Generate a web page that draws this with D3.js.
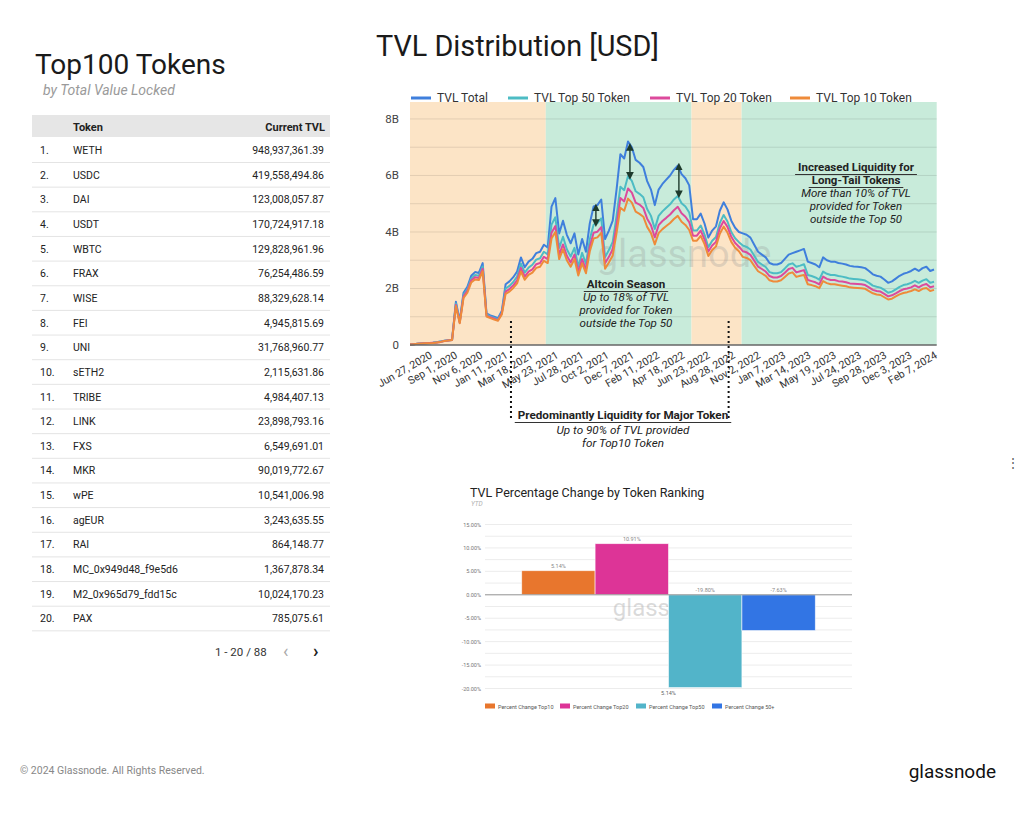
<!DOCTYPE html>
<html><head><meta charset="utf-8">
<script src="https://cdn.jsdelivr.net/npm/d3@7"></script>
<style>
body{margin:0;background:#fff;}
svg text{font-family:Roboto,'Noto Sans',sans-serif;}
</style></head><body>
<svg id="c" width="1034" height="823"></svg>
<script>
// ---------------- DATA ----------------
const tokens = ["WETH","USDC","DAI","USDT","WBTC","FRAX","WISE","FEI","UNI","sETH2","TRIBE","LINK","FXS","MKR","wPE","agEUR","RAI","MC_0x949d48_f9e5d6","M2_0x965d79_fdd15c","PAX"];
const currentTVL = [948937361.39,419558494.86,123008057.87,170724917.18,129828961.96,76254486.59,88329628.14,4945815.69,31768960.77,2115631.86,4984407.13,23898793.16,6549691.01,90019772.67,10541006.98,3243635.55,864148.77,1367878.34,10024170.23,785075.61];

// TVL series in billions USD, one value every 10 days starting 2020-05-08
const seriesStart = "2020-05-08";
const seriesStepDays = 10;
const tvlTotal = [
0.02,0.03,0.04,0.05,0.06,0.07,0.08,0.10,0.12,0.15,0.17,0.19,
1.53,0.85,1.85,2.06,2.45,2.58,2.55,2.90,1.12,1.05,1.00,0.95,1.20,
2.15,2.25,2.40,2.60,3.10,2.75,2.95,3.05,3.25,3.30,3.55,3.45,
4.90,5.20,3.95,4.40,3.90,3.60,3.95,3.20,3.75,3.30,4.30,4.90,4.95,5.15,
3.75,4.05,4.40,5.50,6.75,6.60,7.20,7.00,6.55,6.45,6.30,5.80,5.50,4.95,5.50,5.70,5.85,6.00,6.20,6.35,6.05,5.90,5.65,
4.45,4.45,4.65,4.30,3.80,4.05,4.20,4.75,5.05,4.80,4.40,4.15,4.00,
3.95,3.90,3.80,3.55,3.30,3.20,3.10,2.90,2.85,2.85,2.90,3.05,3.20,3.25,
3.30,3.35,3.40,2.95,2.90,2.85,2.75,3.10,3.00,2.95,2.95,2.90,2.88,2.85,2.80,2.78,2.77,2.75,2.72,2.62,2.50,2.45,2.42,2.32,2.20,2.25,2.35,2.45,2.52,2.56,2.62,2.70,2.62,2.72,2.77,2.62,2.67];
const tvlTop50 = [
0.02,0.03,0.04,0.05,0.06,0.07,0.08,0.10,0.12,0.15,0.16,0.18,
1.47,0.82,1.78,1.98,2.35,2.48,2.45,2.78,1.08,1.01,0.96,0.91,1.15,
2.00,2.09,2.23,2.42,2.88,2.56,2.74,2.84,3.02,3.07,3.30,3.21,
4.26,4.52,3.44,3.83,3.39,3.13,3.44,2.78,3.26,2.87,3.74,4.26,4.31,4.48,
3.11,3.36,3.65,4.57,5.60,5.48,5.98,5.81,5.44,5.35,5.23,4.81,4.57,4.11,4.57,4.73,4.86,4.98,5.15,5.27,5.02,4.90,4.69,
4.05,4.05,4.23,3.91,3.46,3.69,3.82,4.32,4.60,4.37,4.00,3.78,3.64,
3.52,3.47,3.38,3.16,2.94,2.85,2.76,2.58,2.54,2.54,2.58,2.71,2.85,2.89,
2.77,2.81,2.86,2.48,2.44,2.39,2.31,2.60,2.52,2.48,2.48,2.44,2.42,2.39,2.35,2.34,2.33,2.31,2.28,2.20,2.10,2.06,2.03,1.95,1.85,1.89,1.97,2.06,2.12,2.15,2.20,2.27,2.20,2.28,2.33,2.20,2.24];
const tvlTop20 = [
0.02,0.03,0.04,0.05,0.06,0.07,0.08,0.09,0.11,0.14,0.16,0.18,
1.42,0.79,1.72,1.92,2.28,2.40,2.37,2.70,1.04,0.98,0.93,0.88,1.12,
1.89,1.98,2.11,2.29,2.73,2.42,2.60,2.68,2.86,2.90,3.12,3.04,
3.97,4.21,3.20,3.56,3.16,2.92,3.20,2.59,3.04,2.67,3.48,3.97,4.01,4.17,
2.89,3.12,3.39,4.24,5.20,5.08,5.54,5.39,5.04,4.97,4.85,4.47,4.24,3.81,4.24,4.39,4.50,4.62,4.77,4.89,4.66,4.54,4.35,
3.87,3.87,4.05,3.74,3.31,3.52,3.65,4.13,4.39,4.18,3.83,3.61,3.48,
3.32,3.28,3.19,2.98,2.77,2.69,2.60,2.44,2.39,2.39,2.44,2.56,2.69,2.73,
2.57,2.61,2.65,2.30,2.26,2.22,2.15,2.42,2.34,2.30,2.30,2.26,2.25,2.22,2.18,2.17,2.16,2.15,2.12,2.04,1.95,1.91,1.89,1.81,1.72,1.76,1.83,1.91,1.97,2.00,2.04,2.11,2.04,2.12,2.16,2.04,2.08];
const tvlTop10 = [
0.02,0.03,0.04,0.05,0.06,0.06,0.07,0.09,0.11,0.14,0.16,0.18,
1.38,0.77,1.67,1.85,2.21,2.32,2.30,2.61,1.01,0.95,0.90,0.86,1.08,
1.81,1.89,2.02,2.18,2.60,2.31,2.48,2.56,2.73,2.77,2.98,2.90,
3.77,4.00,3.04,3.39,3.00,2.77,3.04,2.46,2.89,2.54,3.31,3.77,3.81,3.97,
2.70,2.92,3.17,3.96,4.86,4.75,5.18,5.04,4.72,4.64,4.54,4.18,3.96,3.56,3.96,4.10,4.21,4.32,4.46,4.57,4.36,4.25,4.07,
3.69,3.69,3.86,3.57,3.15,3.36,3.49,3.94,4.19,3.98,3.65,3.44,3.32,
3.12,3.08,3.00,2.80,2.61,2.53,2.45,2.29,2.25,2.25,2.29,2.41,2.53,2.57,
2.41,2.45,2.48,2.15,2.12,2.08,2.01,2.26,2.19,2.15,2.15,2.12,2.10,2.08,2.04,2.03,2.02,2.01,1.99,1.91,1.83,1.79,1.77,1.69,1.61,1.64,1.72,1.79,1.84,1.87,1.91,1.97,1.91,1.99,2.02,1.91,1.95];

const seriesNames = ["TVL Total","TVL Top 50 Token","TVL Top 20 Token","TVL Top 10 Token"];
const seriesColors = ["#3f7fdc","#4dbcc4","#dc4a9c","#ee8b3a"];
const xTickDates = ["2020-06-27","2020-09-01","2020-11-06","2021-01-11","2021-03-18","2021-05-23","2021-07-28","2021-10-02","2021-12-07","2022-02-11","2022-04-18","2022-06-23","2022-08-28","2022-11-02","2023-01-07","2023-03-14","2023-05-19","2023-07-24","2023-09-28","2023-12-03","2024-02-07"];
const yTicks = [0,2,4,6,8];
const periods = [
  {from:"2020-05-08", to:"2021-04-28", kind:"major"},
  {from:"2021-04-28", to:"2022-05-14", kind:"alt"},
  {from:"2022-05-14", to:"2022-09-22", kind:"major"},
  {from:"2022-09-22", to:"2024-02-14", kind:"alt"}];
const arrowMarks = [
  {date:"2021-09-06", hi:4.90, lo:4.28},
  {date:"2021-12-04", hi:7.05, lo:5.95},
  {date:"2022-04-11", hi:6.35, lo:5.30}];
const bracketDates = ["2021-01-27","2022-08-19"];

const barCategory = "5.14%";
const barSeries = ["Percent Change Top10","Percent Change Top20","Percent Change Top50","Percent Change 50+"];
const barValues = [5.14, 10.91, -19.80, -7.63];
const barColors = ["#e8762d","#dd3497","#52b4c9","#3275e4"];

// ---------------- DRAW ----------------
(function(){
const svg = d3.select("#c");
const parse = d3.timeParse("%Y-%m-%d");
const fmtNum = d3.format(",.2f");

// Left panel
svg.append("text").attr("x",35).attr("y",74).attr("font-size",28).attr("fill","#1a1a1a").text("Top100 Tokens");
svg.append("text").attr("x",43).attr("y",95).attr("font-size",14).attr("font-style","italic").attr("fill","#9a9a9a").text("by Total Value Locked");
svg.append("rect").attr("x",32).attr("y",115).attr("width",298).attr("height",22).attr("fill","#e6e6e6");
svg.append("text").attr("x",73).attr("y",130.5).attr("font-size",11).attr("font-weight",700).attr("fill","#222").text("Token");
svg.append("text").attr("x",325).attr("y",130.5).attr("font-size",11).attr("font-weight",700).attr("fill","#222").attr("text-anchor","end").text("Current TVL");
const rowH = 24.65;
const rows = svg.append("g");
tokens.forEach((t,i)=>{
  const by = 154 + i*rowH;
  rows.append("text").attr("x",40).attr("y",by).attr("font-size",10.5).attr("fill","#222").text((i+1)+".");
  rows.append("text").attr("x",73).attr("y",by).attr("font-size",10.5).attr("fill","#222").text(t);
  rows.append("text").attr("x",324).attr("y",by).attr("font-size",10.5).attr("fill","#222").attr("text-anchor","end").text(fmtNum(currentTVL[i]));
  rows.append("line").attr("x1",32).attr("x2",330).attr("y1",by+8.5).attr("y2",by+8.5).attr("stroke","#e4e4e4");
});
svg.append("text").attr("x",215).attr("y",656).attr("font-size",11.5).attr("fill","#333").text("1 - 20 / 88");
svg.append("text").attr("x",283).attr("y",657).attr("font-size",18).attr("fill","#aaa").text("‹");
svg.append("text").attr("x",313).attr("y",657).attr("font-size",18).attr("font-weight",700).attr("fill","#222").text("›");

// Top chart
svg.append("text").attr("x",376).attr("y",56).attr("font-size",28.8).attr("fill","#1a1a1a").text("TVL Distribution [USD]");
const x = d3.scaleTime().domain([parse("2020-05-08"), parse("2024-02-14")]).range([410, 936.7]);
const y = d3.scaleLinear().domain([0, 8.6]).range([345, 102]);
const tc = svg.append("g");
periods.forEach(p=>{
  tc.append("rect").attr("x",x(parse(p.from))).attr("y",y(8.6)).attr("width",x(parse(p.to))-x(parse(p.from))).attr("height",y(0)-y(8.6))
    .attr("fill", p.kind==="major" ? "#fce4c6" : "#c8ebda");
});
d3.range(1,9).forEach(v=>{
  tc.append("line").attr("x1",410).attr("x2",936.7).attr("y1",y(v)).attr("y2",y(v)).attr("stroke","rgba(0,0,0,0.10)");
});
yTicks.forEach(v=>{
  tc.append("text").attr("x",399).attr("y",y(v)+4).attr("text-anchor","end").attr("font-size",11.5).attr("fill","#444").text(v===0?"0":v+"B");
});
tc.append("text").attr("x",684).attr("y",267).attr("text-anchor","middle").attr("font-family","Inter, sans-serif").attr("font-size",38).attr("fill","rgba(150,150,150,0.28)").text("glassnode");

const seriesData = [tvlTotal,tvlTop50,tvlTop20,tvlTop10];
const start = parse(seriesStart);
const line = d3.line().x((d,i)=>x(d3.timeDay.offset(start, i*seriesStepDays))).y(d=>y(d));
seriesData.forEach((arr,k)=>{
  tc.append("path").attr("d", line(arr)).attr("fill","none").attr("stroke",seriesColors[k]).attr("stroke-width",2).attr("stroke-linejoin","round");
});
tc.append("line").attr("x1",410).attr("x2",936.7).attr("y1",y(0)).attr("y2",y(0)).attr("stroke","#666").attr("stroke-width",1.3);

// x labels
xTickDates.forEach(ds=>{
  const d = parse(ds);
  tc.append("text").attr("transform",`translate(${x(d)+2},${354}) rotate(-30)`).attr("text-anchor","end").attr("dy","0.35em")
    .attr("font-size",10.6).attr("fill","#333").text(d3.timeFormat("%b %-d, %Y")(d));
});

// legend
const legX = [411,508,650,790];
seriesNames.forEach((n,k)=>{
  tc.append("line").attr("x1",legX[k]).attr("x2",legX[k]+20).attr("y1",98).attr("y2",98).attr("stroke",seriesColors[k]).attr("stroke-width",3);
  tc.append("text").attr("x",legX[k]+26).attr("y",102).attr("font-size",12).attr("fill","#333").text(n);
});

// arrows
const defs = svg.append("defs");
defs.append("marker").attr("id","ah").attr("viewBox","0 0 10 10").attr("refX",5).attr("refY",5).attr("markerWidth",5.5).attr("markerHeight",5.5).attr("orient","auto-start-reverse")
  .append("path").attr("d","M0,0 L10,5 L0,10 z").attr("fill","#1d3a2c");
arrowMarks.forEach(a=>{
  const ax = x(parse(a.date));
  tc.append("line").attr("x1",ax).attr("x2",ax).attr("y1",y(a.hi)+1).attr("y2",y(a.lo)-1).attr("stroke","#1d3a2c").attr("stroke-width",1.4)
    .attr("marker-start","url(#ah)").attr("marker-end","url(#ah)");
});

// annotations
function annot(cx, fs, lines){
  lines.forEach(l=>{
    const t = tc.append("text").attr("x",cx).attr("y",l.y).attr("text-anchor","middle").attr("font-size",fs).attr("fill","#222")
      .attr("font-weight", l.bold?700:400).attr("font-style", l.bold?"normal":"italic").text(l.t);
    if(l.bold){
      const w = t.node().getComputedTextLength();
      tc.append("line").attr("x1",cx-w/2-3).attr("x2",cx+w/2+3).attr("y1",l.y+3.5).attr("y2",l.y+3.5).attr("stroke","#333").attr("stroke-width",1);
    }
  });
}
annot(626,11.6,[{t:"Altcoin Season",y:288,bold:true},{t:"Up to 18% of TVL",y:301},{t:"provided for Token",y:314},{t:"outside the Top 50",y:327}]);
annot(856,11.5,[{t:"Increased Liquidity for",y:171,bold:true},{t:"Long-Tail Tokens",y:184,bold:true},{t:"More than 10% of TVL",y:197},{t:"provided for Token",y:210},{t:"outside the Top 50",y:223}]);
bracketDates.forEach(ds=>{
  const bx = x(parse(ds));
  tc.append("line").attr("x1",bx).attr("x2",bx).attr("y1",321).attr("y2",421).attr("stroke","#111").attr("stroke-width",2).attr("stroke-dasharray","2,3");
});
annot(623,11.7,[{t:"Predominantly Liquidity for Major Token",y:419,bold:true},{t:"Up to 90% of TVL provided",y:434},{t:"for Top10 Token",y:447}]);

// Bar chart
const bc = svg.append("g");
bc.append("text").attr("x",470).attr("y",497).attr("font-size",12.5).attr("fill","#222").text("TVL Percentage Change by Token Ranking");
bc.append("text").attr("x",471).attr("y",505.5).attr("font-size",6.5).attr("font-style","italic").attr("fill","#b0b0b0").text("YTD");
const x0 = d3.scaleBand().domain([barCategory]).range([485,852]).paddingInner(0).paddingOuter(0.125);
const x1 = d3.scaleBand().domain(barSeries).range([0, x0.bandwidth()]);
const yb = d3.scaleLinear().domain([-20,15]).range([688.5,524.5]);
d3.range(-20,15.01,2.5).forEach(v=>{
  bc.append("line").attr("x1",485).attr("x2",852).attr("y1",yb(v)).attr("y2",yb(v)).attr("stroke","#ececec");
});
d3.range(-20,15.01,5).forEach(v=>{
  bc.append("text").attr("x",481).attr("y",yb(v)+2).attr("text-anchor","end").attr("font-size",5.5).attr("fill","#777").text(v.toFixed(2)+"%");
});
bc.append("text").attr("x",668).attr("y",616).attr("text-anchor","middle").attr("font-family","Inter, sans-serif").attr("font-size",24).attr("fill","rgba(150,150,150,0.35)").text("glassnode");
barSeries.forEach((s,k)=>{
  const v = barValues[k];
  const bx = x0(barCategory)+x1(s);
  bc.append("rect").attr("x",bx).attr("y",yb(Math.max(0,v))).attr("width",x1.bandwidth()).attr("height",Math.abs(yb(v)-yb(0)))
    .attr("fill",barColors[k]).attr("stroke","rgba(255,255,255,0.7)").attr("stroke-width",0.8);
  bc.append("text").attr("x",bx+x1.bandwidth()/2).attr("y",(v>0?yb(v):yb(0))-3).attr("text-anchor","middle").attr("font-size",5.5).attr("fill","#888").text(v.toFixed(2)+"%");
});
bc.append("line").attr("x1",485).attr("x2",852).attr("y1",yb(0)).attr("y2",yb(0)).attr("stroke","#9a9a9a");
bc.append("text").attr("x",x0(barCategory)+x0.bandwidth()/2).attr("y",695).attr("text-anchor","middle").attr("font-size",5.5).attr("fill","#666").text(barCategory);
const bLegX = [485,560,636,712];
barSeries.forEach((s,k)=>{
  bc.append("rect").attr("x",bLegX[k]).attr("y",703.5).attr("width",10).attr("height",5).attr("fill",barColors[k]);
  bc.append("text").attr("x",bLegX[k]+13).attr("y",708.5).attr("font-size",5.5).attr("fill","#555").text(s);
});

// Footer
svg.append("text").attr("x",20).attr("y",774).attr("font-size",10.5).attr("fill","#888").text("© 2024 Glassnode. All Rights Reserved.");
svg.append("text").attr("x",996).attr("y",778).attr("text-anchor","end").attr("font-family","Inter, sans-serif").attr("font-size",19).attr("fill","#111").text("glassnode");
svg.append("text").attr("x",1013).attr("y",467).attr("text-anchor","middle").attr("font-size",12).attr("fill","#555").text("⋮");
})();
</script>
</body></html>
